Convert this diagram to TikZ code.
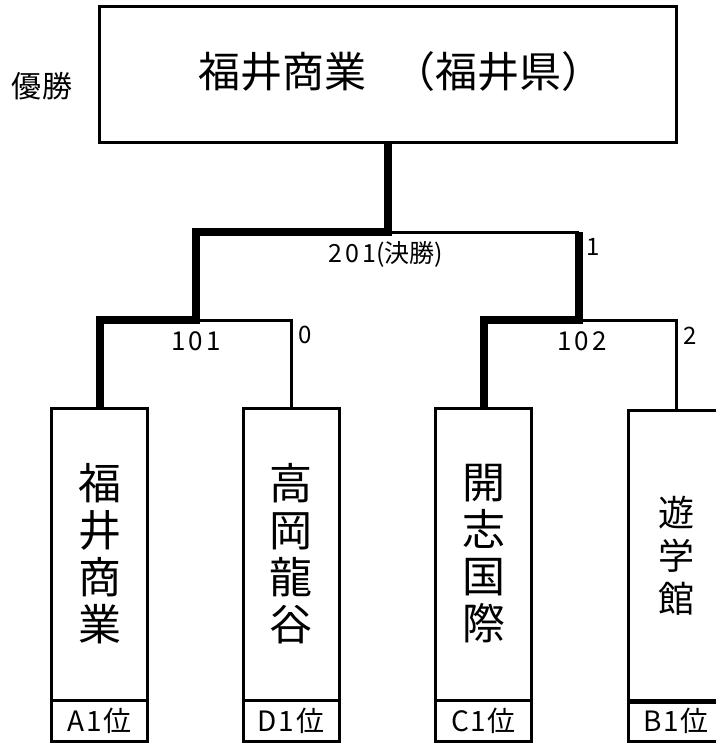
\documentclass[tikz,border=0pt]{standalone}
\usepackage{fontspec}
\setmainfont{Noto Sans CJK JP}
\newfontfamily\digitfont{Noto Sans CJK JP}[LetterSpace=11]
\newfontfamily\rankfont{Noto Sans CJK JP}[LetterSpace=6]
\begin{document}
\begin{tikzpicture}[x=1pt,y=-1pt,
  box/.style={draw,line width=3pt,inner sep=0pt},
  loser/.style={line width=3pt},
  winner/.style={line width=8pt},
  team/.style={box,minimum width=96pt,minimum height=292pt,align=center,font=\fontsize{43}{47}\selectfont},
  rank/.style={box,minimum width=96pt,minimum height=41pt,font=\rankfont\fontsize{28}{30}\selectfont},
  score/.style={inner sep=0pt,font=\fontsize{24}{26}\selectfont},
  game/.style={inner sep=0pt,font=\digitfont\fontsize{26}{28}\selectfont},
]
\useasboundingbox (0,0) rectangle (715,743);
% champion
\node[box,minimum width=577pt,minimum height=136pt] (champ) at (387.5,75) {};
\node[anchor=west,inner sep=0pt,font=\fontsize{42}{46}\selectfont] (champname) at (198,72) {福井商業\hspace{27pt}（福井県）};
\node[inner sep=0pt,font=\fontsize{30}{32}\selectfont] (yusho) at (42,86) {優勝};
% teams
\node[team] (t1) at (99.5,554) {福\\井\\商\\業};
\node[team] (t2) at (291,554) {高\\岡\\龍\\谷};
\node[team] (t3) at (483.5,554) {開\\志\\国\\際};
\node[team,font=\fontsize{36}{43}\selectfont] (t4) at (676,556) {遊\\学\\館};
\node[rank] (r1) at (99.5,720.5) {A1位};
\node[rank] (r2) at (291,720.5) {D1位};
\node[rank] (r3) at (483.5,720.5) {C1位};
\node[rank] (r4) at (676,720.5) {B1位};
% junctions
\coordinate (f) at (champ.south |- 0,232);
\coordinate (s1) at (196,320);
\coordinate (s2) at (579,320);
% connectors
\draw[winner] (champ.south) -- (f) -| (s1) -| (t1.north);
\draw[loser] (f) -- (f -| s2);
\draw[winner] (f -| s2) -- (s2) -| (t3.north);
\draw[loser] (s1) -| (t2.north);
\draw[loser] (s2) -| (t4.north);
% labels
\node[inner sep=0pt,font=\fontsize{25}{27}\selectfont] (l201) at (386,254) {{\digitfont 201}(決勝)};
\node[score] (l1) at (593,247) {1};
\node[game] (l101) at (196,341) {101};
\node[score] (l0) at (305,335) {0};
\node[game] (l102) at (582,341) {102};
\node[score] (l2) at (690,336) {2};
\end{tikzpicture}
\end{document}
